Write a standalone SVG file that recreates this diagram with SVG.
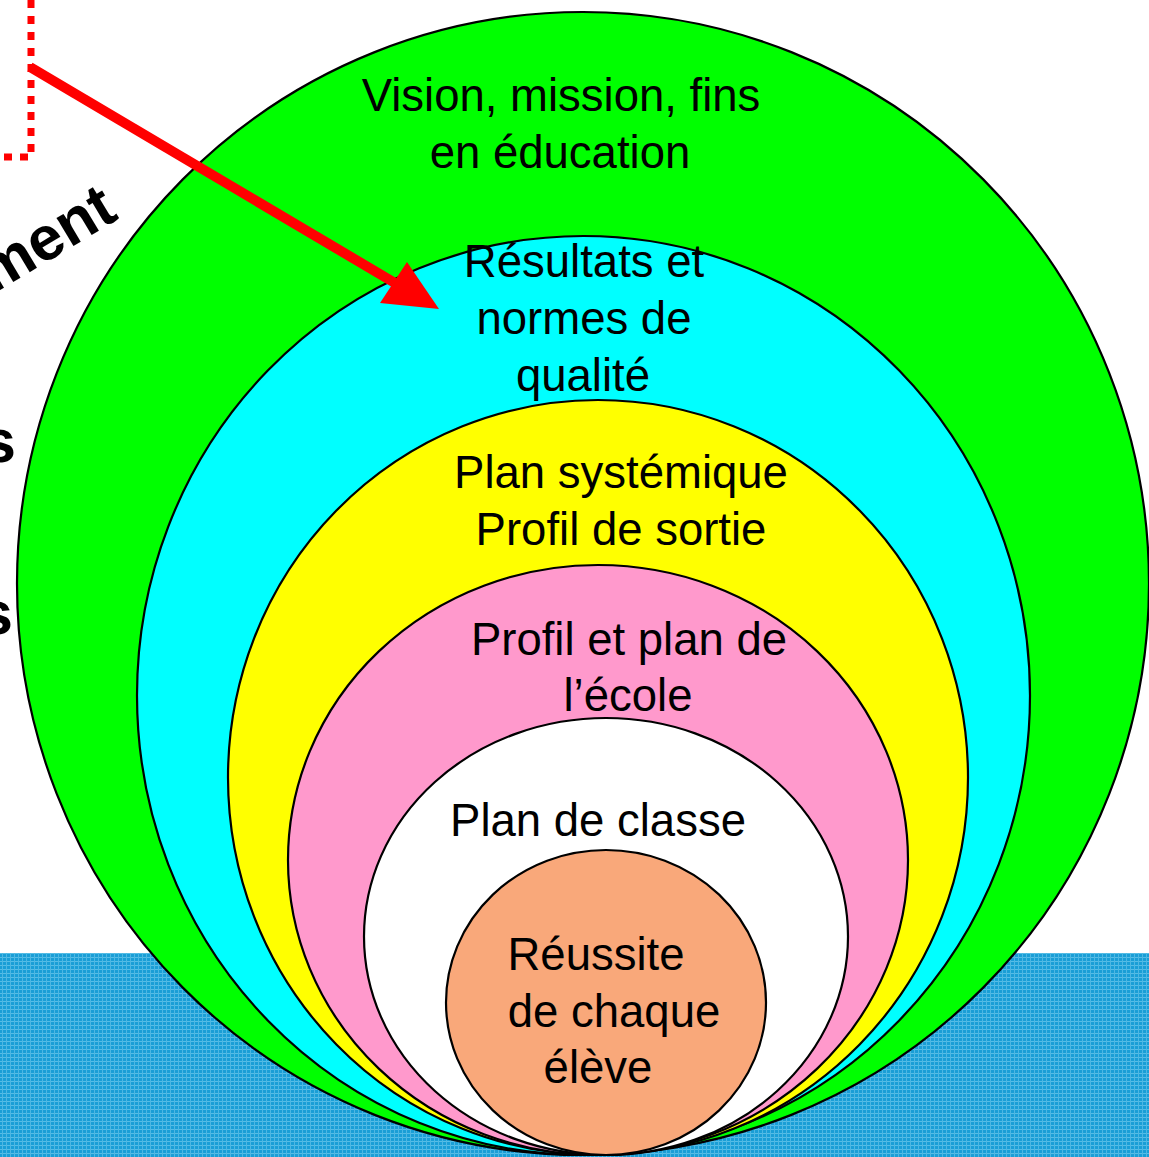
<svg xmlns="http://www.w3.org/2000/svg" width="1149" height="1157" viewBox="0 0 1149 1157">
<style>
.ring{stroke:#000;stroke-width:2.2}
.lbl{font-family:"Liberation Sans",Arial,sans-serif;font-size:45.5px;fill:#000;text-anchor:middle}
.frag{font-family:"Liberation Sans",Arial,sans-serif;font-size:62px;font-weight:bold;fill:#000}
</style>
<defs>
<pattern id="weave" width="4" height="4" patternUnits="userSpaceOnUse">
<rect width="4" height="4" fill="#1a9ed6"/>
<rect x="0" y="1" width="4" height="1" fill="#56bde6"/>
<rect x="2" y="0" width="1" height="4" fill="#4db7e3"/>
</pattern>
</defs>
<rect width="1149" height="1157" fill="#fff"/>
<rect id="ground" x="0" y="953" width="1149" height="204" fill="url(#weave)"/>
<g id="left-fragments">
<text class="frag" x="120" y="218" text-anchor="end" transform="rotate(-31 120 218)">ment</text>
<text class="frag" x="16" y="462" text-anchor="end">s</text>
<text class="frag" x="13" y="634" text-anchor="end">s</text>
</g>
<g id="n-vision"><ellipse class="ring" cx="583" cy="583.5" rx="566" ry="571.5" fill="#00ff00"/>
<text class="lbl" x="561" y="111">Vision, mission, fins</text><text class="lbl" x="560" y="168">en éducation</text></g>
<g id="n-resultats"><ellipse class="ring" cx="583.5" cy="695.5" rx="446.5" ry="459.5" fill="#00ffff"/>
<text class="lbl" x="584" y="277">Résultats et</text><text class="lbl" x="584" y="334">normes de</text><text class="lbl" x="583" y="391">qualité</text></g>
<g id="n-plan-systemique"><ellipse class="ring" cx="598" cy="777.5" rx="370" ry="377.5" fill="#ffff00"/>
<text class="lbl" x="621" y="488">Plan systémique</text><text class="lbl" x="621" y="545">Profil de sortie</text></g>
<g id="n-ecole"><ellipse class="ring" cx="598" cy="860" rx="310" ry="295" fill="#ff99cc"/>
<text class="lbl" x="629" y="655">Profil et plan de</text><text class="lbl" x="628" y="711">l’école</text></g>
<g id="n-classe"><ellipse class="ring" cx="606" cy="936.5" rx="242" ry="218.5" fill="#ffffff"/>
<text class="lbl" x="598" y="836">Plan de classe</text></g>
<g id="n-eleve"><ellipse class="ring" cx="606" cy="1002.5" rx="160" ry="152.5" fill="#f9a87a"/>
<text class="lbl" x="596" y="970">Réussite</text><text class="lbl" x="614" y="1027">de chaque</text><text class="lbl" x="598" y="1083">élève</text></g>
<g id="connectors">
<path d="M31,0 V157 H0" fill="none" stroke="#ff0000" stroke-width="7" stroke-dasharray="8 8"/>
<line x1="30" y1="67" x2="400" y2="286" stroke="#ff0000" stroke-width="10"/>
<polygon points="439,309 380,303 407,262" fill="#ff0000"/>
</g>
</svg>
